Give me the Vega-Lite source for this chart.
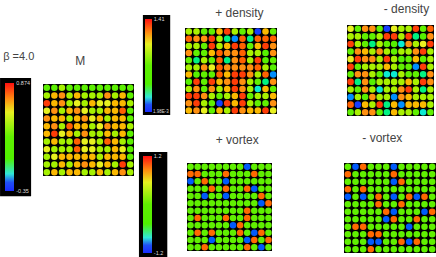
{"$schema":"https://vega.github.io/schema/vega-lite/v6.json","width":436,"height":257,"padding":0,"autosize":"none","background":"white","config":{"view":{"stroke":null}},
"datasets":{
"m":[{"c":1,"r":1,"v":0.2},{"c":2,"r":1,"v":0.2},{"c":3,"r":1,"v":0.38},{"c":4,"r":1,"v":0.2},{"c":5,"r":1,"v":0.2},{"c":6,"r":1,"v":0.2},{"c":7,"r":1,"v":0.2},{"c":8,"r":1,"v":0.2},{"c":9,"r":1,"v":0.2},{"c":10,"r":1,"v":0.2},{"c":11,"r":1,"v":0.2},{"c":12,"r":1,"v":0.2},
{"c":1,"r":2,"v":0.38},{"c":2,"r":2,"v":0.63},{"c":3,"r":2,"v":0.69},{"c":4,"r":2,"v":0.38},{"c":5,"r":2,"v":0.63},{"c":6,"r":2,"v":0.38},{"c":7,"r":2,"v":0.38},{"c":8,"r":2,"v":0.38},{"c":9,"r":2,"v":0.69},{"c":10,"r":2,"v":0.38},{"c":11,"r":2,"v":0.63},{"c":12,"r":2,"v":0.2},
{"c":1,"r":3,"v":0.84},{"c":2,"r":3,"v":0.63},{"c":3,"r":3,"v":0.69},{"c":4,"r":3,"v":0.38},{"c":5,"r":3,"v":0.54},{"c":6,"r":3,"v":0.38},{"c":7,"r":3,"v":0.63},{"c":8,"r":3,"v":0.54},{"c":9,"r":3,"v":0.54},{"c":10,"r":3,"v":0.63},{"c":11,"r":3,"v":0.63},{"c":12,"r":3,"v":0.38},
{"c":1,"r":4,"v":0.54},{"c":2,"r":4,"v":0.69},{"c":3,"r":4,"v":0.38},{"c":4,"r":4,"v":0.63},{"c":5,"r":4,"v":0.69},{"c":6,"r":4,"v":0.54},{"c":7,"r":4,"v":0.38},{"c":8,"r":4,"v":0.38},{"c":9,"r":4,"v":0.63},{"c":10,"r":4,"v":0.63},{"c":11,"r":4,"v":0.79},{"c":12,"r":4,"v":0.2},
{"c":1,"r":5,"v":0.69},{"c":2,"r":5,"v":0.63},{"c":3,"r":5,"v":0.63},{"c":4,"r":5,"v":0.38},{"c":5,"r":5,"v":0.63},{"c":6,"r":5,"v":0.69},{"c":7,"r":5,"v":0.54},{"c":8,"r":5,"v":0.63},{"c":9,"r":5,"v":0.38},{"c":10,"r":5,"v":0.63},{"c":11,"r":5,"v":0.63},{"c":12,"r":5,"v":0.2},
{"c":1,"r":6,"v":0.63},{"c":2,"r":6,"v":0.69},{"c":3,"r":6,"v":0.38},{"c":4,"r":6,"v":0.79},{"c":5,"r":6,"v":0.63},{"c":6,"r":6,"v":0.63},{"c":7,"r":6,"v":0.38},{"c":8,"r":6,"v":0.54},{"c":9,"r":6,"v":0.69},{"c":10,"r":6,"v":0.63},{"c":11,"r":6,"v":0.63},{"c":12,"r":6,"v":0.38},
{"c":1,"r":7,"v":0.63},{"c":2,"r":7,"v":0.84},{"c":3,"r":7,"v":0.54},{"c":4,"r":7,"v":0.63},{"c":5,"r":7,"v":0.38},{"c":6,"r":7,"v":0.69},{"c":7,"r":7,"v":0.38},{"c":8,"r":7,"v":0.38},{"c":9,"r":7,"v":0.63},{"c":10,"r":7,"v":0.38},{"c":11,"r":7,"v":0.63},{"c":12,"r":7,"v":0.2},
{"c":1,"r":8,"v":0.38},{"c":2,"r":8,"v":0.63},{"c":3,"r":8,"v":0.38},{"c":4,"r":8,"v":0.38},{"c":5,"r":8,"v":0.79},{"c":6,"r":8,"v":0.54},{"c":7,"r":8,"v":0.54},{"c":8,"r":8,"v":0.38},{"c":9,"r":8,"v":0.79},{"c":10,"r":8,"v":0.63},{"c":11,"r":8,"v":0.38},{"c":12,"r":8,"v":0.2},
{"c":1,"r":9,"v":0.54},{"c":2,"r":9,"v":0.38},{"c":3,"r":9,"v":0.38},{"c":4,"r":9,"v":0.38},{"c":5,"r":9,"v":0.79},{"c":6,"r":9,"v":0.54},{"c":7,"r":9,"v":0.54},{"c":8,"r":9,"v":0.38},{"c":9,"r":9,"v":0.38},{"c":10,"r":9,"v":0.63},{"c":11,"r":9,"v":0.54},{"c":12,"r":9,"v":0.2},
{"c":1,"r":10,"v":0.38},{"c":2,"r":10,"v":0.54},{"c":3,"r":10,"v":0.63},{"c":4,"r":10,"v":0.63},{"c":5,"r":10,"v":0.63},{"c":6,"r":10,"v":0.63},{"c":7,"r":10,"v":0.63},{"c":8,"r":10,"v":0.38},{"c":9,"r":10,"v":0.63},{"c":10,"r":10,"v":0.63},{"c":11,"r":10,"v":0.63},{"c":12,"r":10,"v":0.2},
{"c":1,"r":11,"v":0.38},{"c":2,"r":11,"v":0.38},{"c":3,"r":11,"v":0.63},{"c":4,"r":11,"v":0.38},{"c":5,"r":11,"v":0.63},{"c":6,"r":11,"v":0.69},{"c":7,"r":11,"v":0.63},{"c":8,"r":11,"v":0.54},{"c":9,"r":11,"v":0.63},{"c":10,"r":11,"v":0.38},{"c":11,"r":11,"v":0.84},{"c":12,"r":11,"v":0.38},
{"c":1,"r":12,"v":0.38},{"c":2,"r":12,"v":0.63},{"c":3,"r":12,"v":0.38},{"c":4,"r":12,"v":0.63},{"c":5,"r":12,"v":0.63},{"c":6,"r":12,"v":0.38},{"c":7,"r":12,"v":0.38},{"c":8,"r":12,"v":0.63},{"c":9,"r":12,"v":0.38},{"c":10,"r":12,"v":0.63},{"c":11,"r":12,"v":0.69},{"c":12,"r":12,"v":0.38}],
"dp":[{"c":1,"r":1,"v":0.85},{"c":2,"r":1,"v":0.85},{"c":3,"r":1,"v":0.7},{"c":4,"r":1,"v":0.7},{"c":5,"r":1,"v":1.13},{"c":6,"r":1,"v":1.37},{"c":7,"r":1,"v":0.85},{"c":8,"r":1,"v":0.7},{"c":9,"r":1,"v":0.85},{"c":10,"r":1,"v":0.05},{"c":11,"r":1,"v":1.13},{"c":12,"r":1,"v":0.7},
{"c":1,"r":2,"v":1.31},{"c":2,"r":2,"v":1.2},{"c":3,"r":2,"v":1.2},{"c":4,"r":2,"v":1.37},{"c":5,"r":2,"v":0.85},{"c":6,"r":2,"v":0.35},{"c":7,"r":2,"v":0.15},{"c":8,"r":2,"v":1.31},{"c":9,"r":2,"v":0.35},{"c":10,"r":2,"v":1.31},{"c":11,"r":2,"v":1.31},{"c":12,"r":2,"v":1.31},
{"c":1,"r":3,"v":0.85},{"c":2,"r":3,"v":0.85},{"c":3,"r":3,"v":0.7},{"c":4,"r":3,"v":1.37},{"c":5,"r":3,"v":0.85},{"c":6,"r":3,"v":1.13},{"c":7,"r":3,"v":1.37},{"c":8,"r":3,"v":1.31},{"c":9,"r":3,"v":0.7},{"c":10,"r":3,"v":1.13},{"c":11,"r":3,"v":1.37},{"c":12,"r":3,"v":1.2},
{"c":1,"r":4,"v":1.2},{"c":2,"r":4,"v":0.7},{"c":3,"r":4,"v":0.7},{"c":4,"r":4,"v":1.13},{"c":5,"r":4,"v":1.31},{"c":6,"r":4,"v":1.2},{"c":7,"r":4,"v":1.2},{"c":8,"r":4,"v":1.31},{"c":9,"r":4,"v":0.85},{"c":10,"r":4,"v":0.85},{"c":11,"r":4,"v":0.5},{"c":12,"r":4,"v":1.2},
{"c":1,"r":5,"v":0.7},{"c":2,"r":5,"v":0.35},{"c":3,"r":5,"v":0.85},{"c":4,"r":5,"v":0.7},{"c":5,"r":5,"v":1.31},{"c":6,"r":5,"v":0.35},{"c":7,"r":5,"v":1.2},{"c":8,"r":5,"v":1.31},{"c":9,"r":5,"v":0.85},{"c":10,"r":5,"v":1.37},{"c":11,"r":5,"v":0.5},{"c":12,"r":5,"v":0.7},
{"c":1,"r":6,"v":0.85},{"c":2,"r":6,"v":0.85},{"c":3,"r":6,"v":1.2},{"c":4,"r":6,"v":1.03},{"c":5,"r":6,"v":1.31},{"c":6,"r":6,"v":1.2},{"c":7,"r":6,"v":1.2},{"c":8,"r":6,"v":1.2},{"c":9,"r":6,"v":1.2},{"c":10,"r":6,"v":1.31},{"c":11,"r":6,"v":0.85},{"c":12,"r":6,"v":0.5},
{"c":1,"r":7,"v":1.13},{"c":2,"r":7,"v":0.5},{"c":3,"r":7,"v":0.7},{"c":4,"r":7,"v":0.7},{"c":5,"r":7,"v":1.31},{"c":6,"r":7,"v":1.13},{"c":7,"r":7,"v":1.37},{"c":8,"r":7,"v":1.37},{"c":9,"r":7,"v":1.2},{"c":10,"r":7,"v":0.85},{"c":11,"r":7,"v":1.31},{"c":12,"r":7,"v":0.15},
{"c":1,"r":8,"v":0.5},{"c":2,"r":8,"v":1.37},{"c":3,"r":8,"v":0.7},{"c":4,"r":8,"v":1.37},{"c":5,"r":8,"v":1.13},{"c":6,"r":8,"v":1.2},{"c":7,"r":8,"v":1.37},{"c":8,"r":8,"v":1.2},{"c":9,"r":8,"v":0.85},{"c":10,"r":8,"v":0.7},{"c":11,"r":8,"v":0.35},{"c":12,"r":8,"v":1.2},
{"c":1,"r":9,"v":0.85},{"c":2,"r":9,"v":1.2},{"c":3,"r":9,"v":0.7},{"c":4,"r":9,"v":1.2},{"c":5,"r":9,"v":0.85},{"c":6,"r":9,"v":1.13},{"c":7,"r":9,"v":1.37},{"c":8,"r":9,"v":1.2},{"c":9,"r":9,"v":0.85},{"c":10,"r":9,"v":0.24},{"c":11,"r":9,"v":1.13},{"c":12,"r":9,"v":0.7},
{"c":1,"r":10,"v":1.37},{"c":2,"r":10,"v":1.37},{"c":3,"r":10,"v":1.2},{"c":4,"r":10,"v":0.85},{"c":5,"r":10,"v":0.7},{"c":6,"r":10,"v":0.85},{"c":7,"r":10,"v":1.13},{"c":8,"r":10,"v":1.37},{"c":9,"r":10,"v":0.7},{"c":10,"r":10,"v":0.85},{"c":11,"r":10,"v":0.85},{"c":12,"r":10,"v":1.13},
{"c":1,"r":11,"v":1.2},{"c":2,"r":11,"v":1.37},{"c":3,"r":11,"v":0.85},{"c":4,"r":11,"v":0.7},{"c":5,"r":11,"v":0.05},{"c":6,"r":11,"v":1.37},{"c":7,"r":11,"v":1.13},{"c":8,"r":11,"v":1.37},{"c":9,"r":11,"v":0.85},{"c":10,"r":11,"v":0.7},{"c":11,"r":11,"v":0.7},{"c":12,"r":11,"v":1.2},
{"c":1,"r":12,"v":1.13},{"c":2,"r":12,"v":1.2},{"c":3,"r":12,"v":1.03},{"c":4,"r":12,"v":0.7},{"c":5,"r":12,"v":1.13},{"c":6,"r":12,"v":0.85},{"c":7,"r":12,"v":1.37},{"c":8,"r":12,"v":1.2},{"c":9,"r":12,"v":1.13},{"c":10,"r":12,"v":1.13},{"c":11,"r":12,"v":1.37},{"c":12,"r":12,"v":1.03}],
"dm":[{"c":1,"r":1,"v":1.03},{"c":2,"r":1,"v":0.7},{"c":3,"r":1,"v":1.2},{"c":4,"r":1,"v":1.2},{"c":5,"r":1,"v":0.7},{"c":6,"r":1,"v":0.05},{"c":7,"r":1,"v":1.03},{"c":8,"r":1,"v":0.85},{"c":9,"r":1,"v":0.85},{"c":10,"r":1,"v":1.37},{"c":11,"r":1,"v":0.7},{"c":12,"r":1,"v":1.31},
{"c":1,"r":2,"v":0.85},{"c":2,"r":2,"v":0.85},{"c":3,"r":2,"v":0.7},{"c":4,"r":2,"v":0.7},{"c":5,"r":2,"v":0.85},{"c":6,"r":2,"v":1.37},{"c":7,"r":2,"v":1.37},{"c":8,"r":2,"v":0.85},{"c":9,"r":2,"v":1.37},{"c":10,"r":2,"v":0.35},{"c":11,"r":2,"v":0.5},{"c":12,"r":2,"v":1.2},
{"c":1,"r":3,"v":1.37},{"c":2,"r":3,"v":0.85},{"c":3,"r":3,"v":0.7},{"c":4,"r":3,"v":0.35},{"c":5,"r":3,"v":0.85},{"c":6,"r":3,"v":0.7},{"c":7,"r":3,"v":0.5},{"c":8,"r":3,"v":0.24},{"c":9,"r":3,"v":1.2},{"c":10,"r":3,"v":0.85},{"c":11,"r":3,"v":1.03},{"c":12,"r":3,"v":1.37},
{"c":1,"r":4,"v":0.7},{"c":2,"r":4,"v":1.2},{"c":3,"r":4,"v":1.13},{"c":4,"r":4,"v":0.85},{"c":5,"r":4,"v":1.2},{"c":6,"r":4,"v":0.85},{"c":7,"r":4,"v":0.7},{"c":8,"r":4,"v":0.85},{"c":9,"r":4,"v":0.85},{"c":10,"r":4,"v":1.2},{"c":11,"r":4,"v":1.37},{"c":12,"r":4,"v":0.85},
{"c":1,"r":5,"v":1.03},{"c":2,"r":5,"v":1.37},{"c":3,"r":5,"v":1.2},{"c":4,"r":5,"v":1.2},{"c":5,"r":5,"v":0.85},{"c":6,"r":5,"v":1.37},{"c":7,"r":5,"v":0.85},{"c":8,"r":5,"v":0.5},{"c":9,"r":5,"v":0.7},{"c":10,"r":5,"v":1.13},{"c":11,"r":5,"v":0.7},{"c":12,"r":5,"v":0.85},
{"c":1,"r":6,"v":1.37},{"c":2,"r":6,"v":0.7},{"c":3,"r":6,"v":0.85},{"c":4,"r":6,"v":0.85},{"c":5,"r":6,"v":0.85},{"c":6,"r":6,"v":1.13},{"c":7,"r":6,"v":0.85},{"c":8,"r":6,"v":0.7},{"c":9,"r":6,"v":0.7},{"c":10,"r":6,"v":0.15},{"c":11,"r":6,"v":1.37},{"c":12,"r":6,"v":0.85},
{"c":1,"r":7,"v":0.7},{"c":2,"r":7,"v":1.2},{"c":3,"r":7,"v":1.2},{"c":4,"r":7,"v":0.85},{"c":5,"r":7,"v":0.7},{"c":6,"r":7,"v":0.24},{"c":7,"r":7,"v":0.24},{"c":8,"r":7,"v":0.85},{"c":9,"r":7,"v":0.7},{"c":10,"r":7,"v":0.7},{"c":11,"r":7,"v":0.35},{"c":12,"r":7,"v":1.2},
{"c":1,"r":8,"v":1.37},{"c":2,"r":8,"v":0.35},{"c":3,"r":8,"v":1.2},{"c":4,"r":8,"v":0.5},{"c":5,"r":8,"v":0.85},{"c":6,"r":8,"v":0.85},{"c":7,"r":8,"v":0.85},{"c":8,"r":8,"v":0.85},{"c":9,"r":8,"v":1.13},{"c":10,"r":8,"v":0.85},{"c":11,"r":8,"v":1.37},{"c":12,"r":8,"v":1.2},
{"c":1,"r":9,"v":0.85},{"c":2,"r":9,"v":0.7},{"c":3,"r":9,"v":1.2},{"c":4,"r":9,"v":0.85},{"c":5,"r":9,"v":0.24},{"c":6,"r":9,"v":0.85},{"c":7,"r":9,"v":0.85},{"c":8,"r":9,"v":1.2},{"c":9,"r":9,"v":1.37},{"c":10,"r":9,"v":0.85},{"c":11,"r":9,"v":0.35},{"c":12,"r":9,"v":0.85},
{"c":1,"r":10,"v":0.15},{"c":2,"r":10,"v":0.85},{"c":3,"r":10,"v":0.5},{"c":4,"r":10,"v":1.2},{"c":5,"r":10,"v":0.85},{"c":6,"r":10,"v":0.85},{"c":7,"r":10,"v":0.15},{"c":8,"r":10,"v":1.2},{"c":9,"r":10,"v":1.13},{"c":10,"r":10,"v":0.85},{"c":11,"r":10,"v":0.85},{"c":12,"r":10,"v":0.85},
{"c":1,"r":11,"v":1.31},{"c":2,"r":11,"v":0.05},{"c":3,"r":11,"v":1.13},{"c":4,"r":11,"v":0.85},{"c":5,"r":11,"v":1.37},{"c":6,"r":11,"v":0.35},{"c":7,"r":11,"v":1.13},{"c":8,"r":11,"v":0.15},{"c":9,"r":11,"v":1.13},{"c":10,"r":11,"v":1.13},{"c":11,"r":11,"v":1.13},{"c":12,"r":11,"v":0.85},
{"c":1,"r":12,"v":0.7},{"c":2,"r":12,"v":0.85},{"c":3,"r":12,"v":1.2},{"c":4,"r":12,"v":1.2},{"c":5,"r":12,"v":0.7},{"c":6,"r":12,"v":0.35},{"c":7,"r":12,"v":1.13},{"c":8,"r":12,"v":0.85},{"c":9,"r":12,"v":0.85},{"c":10,"r":12,"v":0.7},{"c":11,"r":12,"v":0.24},{"c":12,"r":12,"v":0.7}],
"vp":[{"c":1,"r":1,"v":0},{"c":2,"r":1,"v":0},{"c":3,"r":1,"v":0},{"c":4,"r":1,"v":0},{"c":5,"r":1,"v":0},{"c":6,"r":1,"v":0},{"c":7,"r":1,"v":0},{"c":8,"r":1,"v":0},{"c":9,"r":1,"v":-1},{"c":10,"r":1,"v":0},{"c":11,"r":1,"v":0},{"c":12,"r":1,"v":0},
{"c":1,"r":2,"v":1},{"c":2,"r":2,"v":1},{"c":3,"r":2,"v":0},{"c":4,"r":2,"v":0},{"c":5,"r":2,"v":0},{"c":6,"r":2,"v":1},{"c":7,"r":2,"v":0},{"c":8,"r":2,"v":0},{"c":9,"r":2,"v":0},{"c":10,"r":2,"v":1},{"c":11,"r":2,"v":0},{"c":12,"r":2,"v":0},
{"c":1,"r":3,"v":-1},{"c":2,"r":3,"v":0},{"c":3,"r":3,"v":1},{"c":4,"r":3,"v":0},{"c":5,"r":3,"v":0},{"c":6,"r":3,"v":-1},{"c":7,"r":3,"v":0},{"c":8,"r":3,"v":0},{"c":9,"r":3,"v":0},{"c":10,"r":3,"v":0},{"c":11,"r":3,"v":0},{"c":12,"r":3,"v":0},
{"c":1,"r":4,"v":0},{"c":2,"r":4,"v":0},{"c":3,"r":4,"v":0},{"c":4,"r":4,"v":1},{"c":5,"r":4,"v":0},{"c":6,"r":4,"v":1},{"c":7,"r":4,"v":0},{"c":8,"r":4,"v":0},{"c":9,"r":4,"v":1},{"c":10,"r":4,"v":-1},{"c":11,"r":4,"v":0},{"c":12,"r":4,"v":0},
{"c":1,"r":5,"v":0},{"c":2,"r":5,"v":0},{"c":3,"r":5,"v":-1},{"c":4,"r":5,"v":0},{"c":5,"r":5,"v":0},{"c":6,"r":5,"v":-1},{"c":7,"r":5,"v":0},{"c":8,"r":5,"v":0},{"c":9,"r":5,"v":0},{"c":10,"r":5,"v":0},{"c":11,"r":5,"v":1},{"c":12,"r":5,"v":0},
{"c":1,"r":6,"v":0},{"c":2,"r":6,"v":0},{"c":3,"r":6,"v":0},{"c":4,"r":6,"v":0},{"c":5,"r":6,"v":0},{"c":6,"r":6,"v":0},{"c":7,"r":6,"v":0},{"c":8,"r":6,"v":0},{"c":9,"r":6,"v":0},{"c":10,"r":6,"v":0},{"c":11,"r":6,"v":-1},{"c":12,"r":6,"v":1},
{"c":1,"r":7,"v":0},{"c":2,"r":7,"v":0},{"c":3,"r":7,"v":0},{"c":4,"r":7,"v":0},{"c":5,"r":7,"v":0},{"c":6,"r":7,"v":0},{"c":7,"r":7,"v":0},{"c":8,"r":7,"v":0},{"c":9,"r":7,"v":1},{"c":10,"r":7,"v":0},{"c":11,"r":7,"v":0},{"c":12,"r":7,"v":0},
{"c":1,"r":8,"v":0},{"c":2,"r":8,"v":1},{"c":3,"r":8,"v":0},{"c":4,"r":8,"v":0},{"c":5,"r":8,"v":0},{"c":6,"r":8,"v":1},{"c":7,"r":8,"v":0},{"c":8,"r":8,"v":0},{"c":9,"r":8,"v":1},{"c":10,"r":8,"v":0},{"c":11,"r":8,"v":0},{"c":12,"r":8,"v":0},
{"c":1,"r":9,"v":0},{"c":2,"r":9,"v":0},{"c":3,"r":9,"v":0},{"c":4,"r":9,"v":0},{"c":5,"r":9,"v":0},{"c":6,"r":9,"v":0},{"c":7,"r":9,"v":-1},{"c":8,"r":9,"v":1},{"c":9,"r":9,"v":0},{"c":10,"r":9,"v":0},{"c":11,"r":9,"v":0},{"c":12,"r":9,"v":0},
{"c":1,"r":10,"v":0},{"c":2,"r":10,"v":1},{"c":3,"r":10,"v":0},{"c":4,"r":10,"v":1},{"c":5,"r":10,"v":0},{"c":6,"r":10,"v":0},{"c":7,"r":10,"v":0},{"c":8,"r":10,"v":1},{"c":9,"r":10,"v":0},{"c":10,"r":10,"v":-1},{"c":11,"r":10,"v":1},{"c":12,"r":10,"v":0},
{"c":1,"r":11,"v":0},{"c":2,"r":11,"v":0},{"c":3,"r":11,"v":0},{"c":4,"r":11,"v":-1},{"c":5,"r":11,"v":0},{"c":6,"r":11,"v":0},{"c":7,"r":11,"v":0},{"c":8,"r":11,"v":0},{"c":9,"r":11,"v":-1},{"c":10,"r":11,"v":1},{"c":11,"r":11,"v":0},{"c":12,"r":11,"v":1},
{"c":1,"r":12,"v":0},{"c":2,"r":12,"v":0},{"c":3,"r":12,"v":1},{"c":4,"r":12,"v":0},{"c":5,"r":12,"v":0},{"c":6,"r":12,"v":0},{"c":7,"r":12,"v":0},{"c":8,"r":12,"v":0},{"c":9,"r":12,"v":1},{"c":10,"r":12,"v":0},{"c":11,"r":12,"v":-1},{"c":12,"r":12,"v":0}],
"vm":[{"c":1,"r":1,"v":0},{"c":2,"r":1,"v":-1},{"c":3,"r":1,"v":1},{"c":4,"r":1,"v":0},{"c":5,"r":1,"v":0},{"c":6,"r":1,"v":0},{"c":7,"r":1,"v":-1},{"c":8,"r":1,"v":0},{"c":9,"r":1,"v":0},{"c":10,"r":1,"v":0},{"c":11,"r":1,"v":0},{"c":12,"r":1,"v":0},
{"c":1,"r":2,"v":1},{"c":2,"r":2,"v":0},{"c":3,"r":2,"v":0},{"c":4,"r":2,"v":0},{"c":5,"r":2,"v":0},{"c":6,"r":2,"v":0},{"c":7,"r":2,"v":1},{"c":8,"r":2,"v":0},{"c":9,"r":2,"v":0},{"c":10,"r":2,"v":0},{"c":11,"r":2,"v":0},{"c":12,"r":2,"v":0},
{"c":1,"r":3,"v":0},{"c":2,"r":3,"v":0},{"c":3,"r":3,"v":0},{"c":4,"r":3,"v":0},{"c":5,"r":3,"v":0},{"c":6,"r":3,"v":0},{"c":7,"r":3,"v":-1},{"c":8,"r":3,"v":1},{"c":9,"r":3,"v":0},{"c":10,"r":3,"v":0},{"c":11,"r":3,"v":0},{"c":12,"r":3,"v":0},
{"c":1,"r":4,"v":1},{"c":2,"r":4,"v":0},{"c":3,"r":4,"v":1},{"c":4,"r":4,"v":0},{"c":5,"r":4,"v":0},{"c":6,"r":4,"v":0},{"c":7,"r":4,"v":0},{"c":8,"r":4,"v":0},{"c":9,"r":4,"v":0},{"c":10,"r":4,"v":0},{"c":11,"r":4,"v":0},{"c":12,"r":4,"v":0},
{"c":1,"r":5,"v":-1},{"c":2,"r":5,"v":0},{"c":3,"r":5,"v":-1},{"c":4,"r":5,"v":0},{"c":5,"r":5,"v":1},{"c":6,"r":5,"v":0},{"c":7,"r":5,"v":-1},{"c":8,"r":5,"v":0},{"c":9,"r":5,"v":1},{"c":10,"r":5,"v":-1},{"c":11,"r":5,"v":1},{"c":12,"r":5,"v":0},
{"c":1,"r":6,"v":0},{"c":2,"r":6,"v":0},{"c":3,"r":6,"v":0},{"c":4,"r":6,"v":0},{"c":5,"r":6,"v":1},{"c":6,"r":6,"v":0},{"c":7,"r":6,"v":0},{"c":8,"r":6,"v":1},{"c":9,"r":6,"v":0},{"c":10,"r":6,"v":0},{"c":11,"r":6,"v":0},{"c":12,"r":6,"v":0},
{"c":1,"r":7,"v":0},{"c":2,"r":7,"v":0},{"c":3,"r":7,"v":0},{"c":4,"r":7,"v":0},{"c":5,"r":7,"v":0},{"c":6,"r":7,"v":1},{"c":7,"r":7,"v":-1},{"c":8,"r":7,"v":0},{"c":9,"r":7,"v":0},{"c":10,"r":7,"v":0},{"c":11,"r":7,"v":-1},{"c":12,"r":7,"v":1},
{"c":1,"r":8,"v":0},{"c":2,"r":8,"v":0},{"c":3,"r":8,"v":0},{"c":4,"r":8,"v":0},{"c":5,"r":8,"v":0},{"c":6,"r":8,"v":-1},{"c":7,"r":8,"v":1},{"c":8,"r":8,"v":0},{"c":9,"r":8,"v":0},{"c":10,"r":8,"v":1},{"c":11,"r":8,"v":0},{"c":12,"r":8,"v":0},
{"c":1,"r":9,"v":0},{"c":2,"r":9,"v":1},{"c":3,"r":9,"v":1},{"c":4,"r":9,"v":0},{"c":5,"r":9,"v":0},{"c":6,"r":9,"v":0},{"c":7,"r":9,"v":0},{"c":8,"r":9,"v":0},{"c":9,"r":9,"v":-1},{"c":10,"r":9,"v":0},{"c":11,"r":9,"v":0},{"c":12,"r":9,"v":0},
{"c":1,"r":10,"v":0},{"c":2,"r":10,"v":0},{"c":3,"r":10,"v":0},{"c":4,"r":10,"v":1},{"c":5,"r":10,"v":1},{"c":6,"r":10,"v":0},{"c":7,"r":10,"v":0},{"c":8,"r":10,"v":0},{"c":9,"r":10,"v":0},{"c":10,"r":10,"v":0},{"c":11,"r":10,"v":0},{"c":12,"r":10,"v":0},
{"c":1,"r":11,"v":0},{"c":2,"r":11,"v":0},{"c":3,"r":11,"v":0},{"c":4,"r":11,"v":-1},{"c":5,"r":11,"v":-1},{"c":6,"r":11,"v":0},{"c":7,"r":11,"v":0},{"c":8,"r":11,"v":1},{"c":9,"r":11,"v":-1},{"c":10,"r":11,"v":1},{"c":11,"r":11,"v":0},{"c":12,"r":11,"v":0},
{"c":1,"r":12,"v":0},{"c":2,"r":12,"v":0},{"c":3,"r":12,"v":0},{"c":4,"r":12,"v":1},{"c":5,"r":12,"v":0},{"c":6,"r":12,"v":0},{"c":7,"r":12,"v":0},{"c":8,"r":12,"v":0},{"c":9,"r":12,"v":0},{"c":10,"r":12,"v":0},{"c":11,"r":12,"v":0},{"c":12,"r":12,"v":0}]
},
"layer":[
{"layer":[
{"data":{"values":[{"t":"M"}]},"mark":{"type":"text","font":"Liberation Sans","fontSize":12,"color":"#444444"},"encoding":{"x":{"datum":5.4,"type":"quantitative","axis":null},"y":{"datum":-2.5,"type":"quantitative","axis":null},"text":{"field":"t"}}},
{"data":{"values":[{"t":"β =4.0"}]},"mark":{"type":"text","font":"Liberation Sans","fontSize":11,"color":"#444444","align":"left"},"encoding":{"x":{"datum":-4.75,"type":"quantitative","axis":null},"y":{"datum":-3,"type":"quantitative","axis":null},"text":{"field":"t"}}},
{"data":{"values":[{}]},"mark":{"type":"rect","color":"black"},"encoding":{"x":{"datum":0.5,"type":"quantitative","axis":null},"x2":{"datum":12.5},"y":{"datum":0.5,"type":"quantitative","axis":null},"y2":{"datum":12.5}}},
{"data":{"name":"m"},"mark":{"type":"circle","size":43,"opacity":1},"encoding":{"x":{"field":"c","type":"quantitative","axis":null,"scale":{"domain":[0.5,12.5],"range":[43,134],"nice":false,"zero":false}},"y":{"field":"r","type":"quantitative","axis":null,"scale":{"domain":[0.5,12.5],"range":[84,176],"nice":false,"zero":false}},"color":{"field":"v","type":"quantitative","legend":null,"scale":{"domain":[-0.35,-0.252,-0.154,0.017,0.262,0.544,0.69,0.874],"range":["#1a2cff","#2050f5","#30e8d8","#50f000","#60f000","#e8f020","#ff9010","#ff1010"]}}}}
]},
{"layer":[
{"data":{"values":[{"t":"+ density"}]},"mark":{"type":"text","font":"Liberation Sans","fontSize":12,"color":"#444444"},"encoding":{"x":{"datum":7.6,"type":"quantitative","axis":null},"y":{"datum":-1.6,"type":"quantitative","axis":null},"text":{"field":"t"}}},
{"data":{"values":[{}]},"mark":{"type":"rect","color":"black"},"encoding":{"x":{"datum":0.5,"type":"quantitative","axis":null},"x2":{"datum":12.5},"y":{"datum":0.5,"type":"quantitative","axis":null},"y2":{"datum":12.5}}},
{"data":{"name":"dp"},"mark":{"type":"circle","size":43,"opacity":1},"encoding":{"x":{"field":"c","type":"quantitative","axis":null,"scale":{"domain":[0.5,12.5],"range":[185,277],"nice":false,"zero":false}},"y":{"field":"r","type":"quantitative","axis":null,"scale":{"domain":[0.5,12.5],"range":[28,114],"nice":false,"zero":false}},"color":{"field":"v","type":"quantitative","legend":null,"scale":{"domain":[0.002,0.115,0.227,0.424,0.706,1.03,1.2,1.41],"range":["#1a2cff","#2050f5","#30e8d8","#50f000","#60f000","#e8f020","#ff9010","#ff1010"]}}}}
]},
{"layer":[
{"data":{"values":[{"t":"- density"}]},"mark":{"type":"text","font":"Liberation Sans","fontSize":12,"color":"#444444"},"encoding":{"x":{"datum":8.7,"type":"quantitative","axis":null},"y":{"datum":-1.6,"type":"quantitative","axis":null},"text":{"field":"t"}}},
{"data":{"values":[{}]},"mark":{"type":"rect","color":"black"},"encoding":{"x":{"datum":0.5,"type":"quantitative","axis":null},"x2":{"datum":12.5},"y":{"datum":0.5,"type":"quantitative","axis":null},"y2":{"datum":12.5}}},
{"data":{"name":"dm"},"mark":{"type":"circle","size":43,"opacity":1},"encoding":{"x":{"field":"c","type":"quantitative","axis":null,"scale":{"domain":[0.5,12.5],"range":[347,434],"nice":false,"zero":false}},"y":{"field":"r","type":"quantitative","axis":null,"scale":{"domain":[0.5,12.5],"range":[25,116],"nice":false,"zero":false}},"color":{"field":"v","type":"quantitative","legend":null,"scale":{"domain":[0.002,0.115,0.227,0.424,0.706,1.03,1.2,1.41],"range":["#1a2cff","#2050f5","#30e8d8","#50f000","#60f000","#e8f020","#ff9010","#ff1010"]}}}}
]},
{"layer":[
{"data":{"values":[{"t":"+ vortex"}]},"mark":{"type":"text","font":"Liberation Sans","fontSize":12,"color":"#444444"},"encoding":{"x":{"datum":7.6,"type":"quantitative","axis":null},"y":{"datum":-2.7,"type":"quantitative","axis":null},"text":{"field":"t"}}},
{"data":{"values":[{}]},"mark":{"type":"rect","color":"black"},"encoding":{"x":{"datum":0.5,"type":"quantitative","axis":null},"x2":{"datum":12.5},"y":{"datum":0.5,"type":"quantitative","axis":null},"y2":{"datum":12.5}}},
{"data":{"name":"vp"},"mark":{"type":"circle","size":43,"opacity":1},"encoding":{"x":{"field":"c","type":"quantitative","axis":null,"scale":{"domain":[0.5,12.5],"range":[187,272],"nice":false,"zero":false}},"y":{"field":"r","type":"quantitative","axis":null,"scale":{"domain":[0.5,12.5],"range":[163,251],"nice":false,"zero":false}},"color":{"field":"v","type":"quantitative","legend":null,"scale":{"domain":[-1.2,-1.008,-0.816,-0.48,0,0.552,0.84,1.2],"range":["#1a2cff","#2050f5","#30e8d8","#50f000","#60f000","#e8f020","#ff9010","#ff1010"]}}}}
]},
{"layer":[
{"data":{"values":[{"t":"- vortex"}]},"mark":{"type":"text","font":"Liberation Sans","fontSize":12,"color":"#444444"},"encoding":{"x":{"datum":5.5,"type":"quantitative","axis":null},"y":{"datum":-2.8,"type":"quantitative","axis":null},"text":{"field":"t"}}},
{"data":{"values":[{}]},"mark":{"type":"rect","color":"black"},"encoding":{"x":{"datum":0.5,"type":"quantitative","axis":null},"x2":{"datum":12.5},"y":{"datum":0.5,"type":"quantitative","axis":null},"y2":{"datum":12.5}}},
{"data":{"name":"vm"},"mark":{"type":"circle","size":43,"opacity":1},"encoding":{"x":{"field":"c","type":"quantitative","axis":null,"scale":{"domain":[0.5,12.5],"range":[344,436],"nice":false,"zero":false}},"y":{"field":"r","type":"quantitative","axis":null,"scale":{"domain":[0.5,12.5],"range":[163,253],"nice":false,"zero":false}},"color":{"field":"v","type":"quantitative","legend":null,"scale":{"domain":[-1.2,-1.008,-0.816,-0.48,0,0.552,0.84,1.2],"range":["#1a2cff","#2050f5","#30e8d8","#50f000","#60f000","#e8f020","#ff9010","#ff1010"]}}}}
]},
{"layer":[
{"data":{"values":[{}]},"mark":{"type":"rect","color":"black"},"encoding":{"x":{"datum":-0.55,"type":"quantitative","axis":null,"scale":{"domain":[0,1],"range":[5,14],"nice":false,"zero":false}},"x2":{"datum":2.9},"y":{"datum":-0.41,"type":"quantitative","axis":null,"scale":{"domain":[-0.35,0.874],"range":[191,83],"nice":false,"zero":false}},"y2":{"datum":0.93}}},
{"data":{"values":[{}]},"mark":{"type":"rect","color":{"gradient":"linear","x1":0,"x2":0,"y1":1,"y2":0,"stops":[{"offset":0,"color":"#1a2cff"},{"offset":0.08,"color":"#2050f5"},{"offset":0.16,"color":"#30e8d8"},{"offset":0.3,"color":"#50f000"},{"offset":0.5,"color":"#60f000"},{"offset":0.73,"color":"#e8f020"},{"offset":0.85,"color":"#ff9010"},{"offset":1,"color":"#ff1010"}]}},"encoding":{"x":{"datum":0,"type":"quantitative","axis":null},"x2":{"datum":1},"y":{"datum":-0.35,"type":"quantitative","axis":null},"y2":{"datum":0.874}}},
{"data":{"values":[{"t":"0.874"}]},"mark":{"type":"text","font":"Liberation Sans","fontSize":5.5,"color":"#dddddd","align":"left"},"encoding":{"x":{"datum":1.25,"type":"quantitative","axis":null},"y":{"datum":0.874,"type":"quantitative","axis":null},"text":{"field":"t"}}},
{"data":{"values":[{"t":"-0.35"}]},"mark":{"type":"text","font":"Liberation Sans","fontSize":5.5,"color":"#dddddd","align":"left"},"encoding":{"x":{"datum":1.25,"type":"quantitative","axis":null},"y":{"datum":-0.35,"type":"quantitative","axis":null},"text":{"field":"t"}}}
]},
{"layer":[
{"data":{"values":[{}]},"mark":{"type":"rect","color":"black"},"encoding":{"x":{"datum":-0.3,"type":"quantitative","axis":null,"scale":{"domain":[0,1],"range":[145,152],"nice":false,"zero":false}},"x2":{"datum":3.6},"y":{"datum":-0.043,"type":"quantitative","axis":null,"scale":{"domain":[0.002,1.41],"range":[112,19],"nice":false,"zero":false}},"y2":{"datum":1.47}}},
{"data":{"values":[{}]},"mark":{"type":"rect","color":{"gradient":"linear","x1":0,"x2":0,"y1":1,"y2":0,"stops":[{"offset":0,"color":"#1a2cff"},{"offset":0.08,"color":"#2050f5"},{"offset":0.16,"color":"#30e8d8"},{"offset":0.3,"color":"#50f000"},{"offset":0.5,"color":"#60f000"},{"offset":0.73,"color":"#e8f020"},{"offset":0.85,"color":"#ff9010"},{"offset":1,"color":"#ff1010"}]}},"encoding":{"x":{"datum":0,"type":"quantitative","axis":null},"x2":{"datum":1},"y":{"datum":0.002,"type":"quantitative","axis":null},"y2":{"datum":1.41}}},
{"data":{"values":[{"t":"1.41"}]},"mark":{"type":"text","font":"Liberation Sans","fontSize":5.5,"color":"#dddddd","align":"left"},"encoding":{"x":{"datum":1.25,"type":"quantitative","axis":null},"y":{"datum":1.41,"type":"quantitative","axis":null},"text":{"field":"t"}}},
{"data":{"values":[{"t":"1.98E-3"}]},"mark":{"type":"text","font":"Liberation Sans","fontSize":4.5,"color":"#dddddd","align":"left"},"encoding":{"x":{"datum":1.15,"type":"quantitative","axis":null},"y":{"datum":0.002,"type":"quantitative","axis":null},"text":{"field":"t"}}}
]},
{"layer":[
{"data":{"values":[{}]},"mark":{"type":"rect","color":"black"},"encoding":{"x":{"datum":-0.45,"type":"quantitative","axis":null,"scale":{"domain":[0,1],"range":[143,152],"nice":false,"zero":false}},"x2":{"datum":2.7},"y":{"datum":-1.3,"type":"quantitative","axis":null,"scale":{"domain":[-1.2,1.2],"range":[253,156],"nice":false,"zero":false}},"y2":{"datum":1.3}}},
{"data":{"values":[{}]},"mark":{"type":"rect","color":{"gradient":"linear","x1":0,"x2":0,"y1":1,"y2":0,"stops":[{"offset":0,"color":"#1a2cff"},{"offset":0.08,"color":"#2050f5"},{"offset":0.16,"color":"#30e8d8"},{"offset":0.3,"color":"#50f000"},{"offset":0.5,"color":"#60f000"},{"offset":0.73,"color":"#e8f020"},{"offset":0.85,"color":"#ff9010"},{"offset":1,"color":"#ff1010"}]}},"encoding":{"x":{"datum":0,"type":"quantitative","axis":null},"x2":{"datum":1},"y":{"datum":-1.2,"type":"quantitative","axis":null},"y2":{"datum":1.2}}},
{"data":{"values":[{"t":"1.2"}]},"mark":{"type":"text","font":"Liberation Sans","fontSize":5.5,"color":"#dddddd","align":"left"},"encoding":{"x":{"datum":1.2,"type":"quantitative","axis":null},"y":{"datum":1.2,"type":"quantitative","axis":null},"text":{"field":"t"}}},
{"data":{"values":[{"t":"-1.2"}]},"mark":{"type":"text","font":"Liberation Sans","fontSize":5.5,"color":"#dddddd","align":"left"},"encoding":{"x":{"datum":1.2,"type":"quantitative","axis":null},"y":{"datum":-1.2,"type":"quantitative","axis":null},"text":{"field":"t"}}}
]}
],
"resolve":{"scale":{"x":"independent","y":"independent","color":"independent"}}}
